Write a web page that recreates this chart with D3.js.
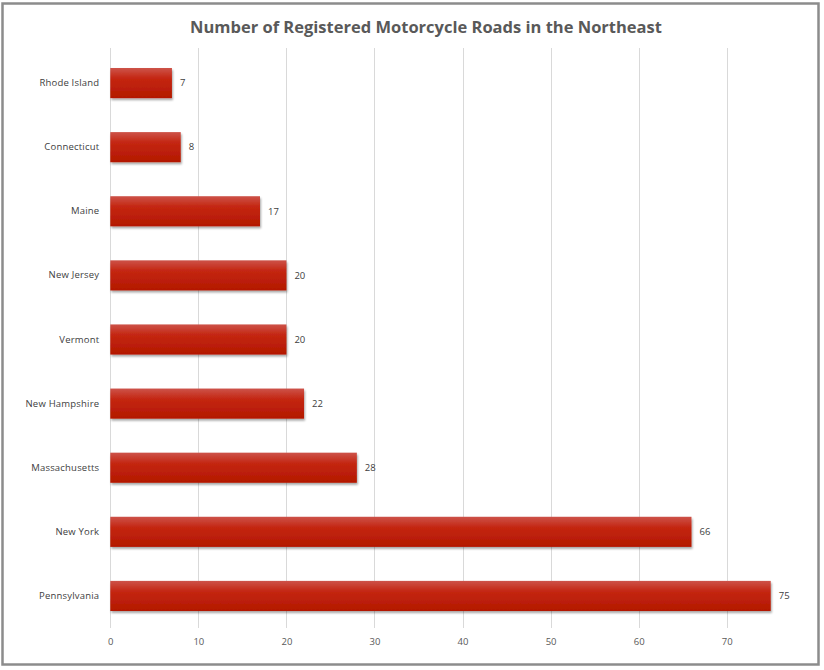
<!DOCTYPE html>
<html>
<head>
<meta charset="utf-8">
<script src="https://cdn.jsdelivr.net/npm/d3@7"></script>
<style>
  body { margin: 0; background: #fff; }
  svg { display: block; font-family: "Open Sans", "DejaVu Sans", sans-serif; }
</style>
</head>
<body>
<div class="chartBox"></div>
<script>
// data, top to bottom
const states = ["Rhode Island", "Connecticut", "Maine", "New Jersey", "Vermont",
                "New Hampshire", "Massachusetts", "New York", "Pennsylvania"];
const roads = [7, 8, 17, 20, 20, 22, 28, 66, 75];
const xTicks = [0, 10, 20, 30, 40, 50, 60, 70];
const chartTitle = "Number of Registered Motorcycle Roads in the Northeast";

const width = 824, height = 670;
const plot = { left: 110.3, right: 726.7, top: 51, bottom: 628 };

let svg = d3.select(".chartBox")
    .append("svg")
    .attr("width", width)
    .attr("height", height);

// #region defs
let defs = svg.append("defs");
let grad = defs.append("linearGradient")
    .attr("id", "barFill")
    .attr("x1", 0).attr("y1", 0).attr("x2", 0).attr("y2", 1);
grad.append("stop").attr("offset", "0%").attr("stop-color", "#cd5349");
grad.append("stop").attr("offset", "35%").attr("stop-color", "#c42612");
grad.append("stop").attr("offset", "100%").attr("stop-color", "#b31800");

let shadow = defs.append("filter")
    .attr("id", "barShadow")
    .attr("x", "-5%").attr("y", "-20%").attr("width", "115%").attr("height", "150%");
shadow.append("feGaussianBlur").attr("in", "SourceAlpha").attr("stdDeviation", 1.2);
shadow.append("feOffset").attr("dx", 0.8).attr("dy", 1.8).attr("result", "off");
shadow.append("feComponentTransfer").append("feFuncA").attr("type", "linear").attr("slope", 0.35);
let merge = shadow.append("feMerge");
merge.append("feMergeNode");
merge.append("feMergeNode").attr("in", "SourceGraphic");
// #endregion

// outer frame
svg.append("rect")
    .attr("x", 2.5).attr("y", 3.5)
    .attr("width", 816).attr("height", 661)
    .attr("fill", "#fff")
    .attr("stroke", "#8c8c8c")
    .attr("stroke-width", 2.5);

// title
svg.append("text")
    .attr("x", 426).attr("y", 33)
    .attr("text-anchor", "middle")
    .attr("font-size", 16.5)
    .attr("font-weight", "bold")
    .attr("fill", "#595959")
    .text(chartTitle);

// #region scales
let xScale = d3.scaleLinear()
    .domain([0, 70])
    .range([plot.left, plot.right]);

let yScale = d3.scaleBand()
    .domain(states)
    .range([plot.top, plot.bottom])
    .paddingInner(0.53)
    .paddingOuter(0.265);
// #endregion

// grid lines
svg.append("g")
    .attr("class", "grid")
    .selectAll("line")
    .data(xTicks)
    .enter()
    .append("line")
    .attr("x1", d => Math.round(xScale(d)) + 0.5)
    .attr("x2", d => Math.round(xScale(d)) + 0.5)
    .attr("y1", plot.top - 3)
    .attr("y2", plot.bottom)
    .attr("stroke", "#d9d9d9")
    .attr("stroke-width", 1);

// x axis labels
let gX = svg.append("g")
    .attr("class", "xScale")
    .attr("transform", "translate(0," + (plot.bottom + 10) + ")")
    .call(d3.axisBottom(xScale).tickValues(xTicks).tickSize(0).tickPadding(0));
gX.select(".domain").remove();
gX.selectAll("text")
    .attr("font-family", "'Open Sans', sans-serif")
    .attr("font-size", 9.5)
    .attr("fill", "#595959");

// y axis labels
let gY = svg.append("g")
    .attr("class", "yScale")
    .attr("transform", "translate(" + (plot.left - 11) + ",0)")
    .call(d3.axisLeft(yScale).tickSize(0).tickPadding(0));
gY.select(".domain").remove();
gY.selectAll("text")
    .attr("font-family", "'Open Sans', sans-serif")
    .attr("font-size", 9.5)
    .attr("letter-spacing", 0.2)
    .attr("fill", "#404040");

// bars
svg.append("g")
    .attr("class", "bars")
    .selectAll("rect")
    .data(states)
    .enter()
    .append("rect")
    .attr("x", xScale(0))
    .attr("y", d => yScale(d))
    .attr("width", (d, i) => xScale(roads[i]) - xScale(0))
    .attr("height", yScale.bandwidth())
    .attr("fill", "url(#barFill)")
    .attr("filter", "url(#barShadow)");

// value labels
svg.append("g")
    .attr("class", "labels")
    .selectAll("text")
    .data(states)
    .enter()
    .append("text")
    .attr("x", (d, i) => xScale(roads[i]) + 8)
    .attr("y", d => yScale(d) + yScale.bandwidth() / 2)
    .attr("dy", "0.35em")
    .attr("font-size", 9.5)
    .attr("fill", "#404040")
    .text((d, i) => roads[i]);
</script>
</body>
</html>
